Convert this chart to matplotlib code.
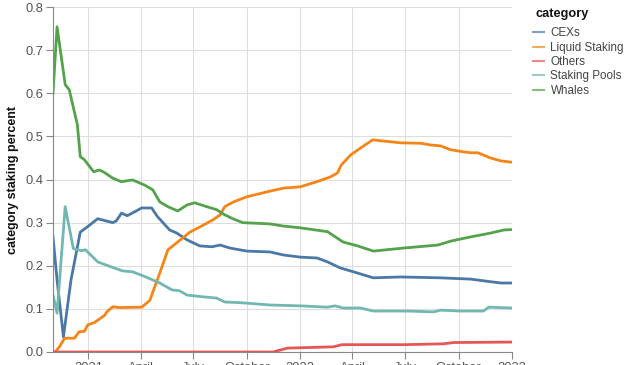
import numpy as np
import pandas as pd
import matplotlib
matplotlib.use("Agg")
import matplotlib.pyplot as plt

plt.rcParams['font.family'] = ['Liberation Sans', 'DejaVu Sans']

# CEXs
cex_dates = ['2020-11-01', '2020-11-08', '2020-11-19', '2020-12-02', '2020-12-18', '2020-12-30',
             '2021-01-17', '2021-02-12', '2021-02-18', '2021-02-27', '2021-03-09', '2021-04-03',
             '2021-04-20', '2021-04-30', '2021-05-21', '2021-06-02', '2021-06-20', '2021-07-12',
             '2021-08-02', '2021-08-16', '2021-09-02', '2021-10-01', '2021-11-10', '2021-12-03',
             '2022-01-01', '2022-01-30', '2022-02-17', '2022-03-11', '2022-04-10', '2022-05-07',
             '2022-06-23', '2022-08-31', '2022-10-22', '2022-11-25', '2022-12-13', '2023-01-01']
cex_vals = [0.267, 0.167, 0.035, 0.167, 0.278, 0.29,
            0.309, 0.30, 0.304, 0.322, 0.316, 0.334,
            0.334, 0.314, 0.283, 0.276, 0.26, 0.246,
            0.244, 0.248, 0.241, 0.234, 0.232, 0.225,
            0.22, 0.218, 0.209, 0.195, 0.183, 0.172,
            0.174, 0.172, 0.169, 0.163, 0.16, 0.16]

# Liquid Staking
liq_dates = ['2020-11-01', '2020-11-05', '2020-11-12', '2020-11-21', '2020-12-08', '2020-12-16',
             '2020-12-25', '2020-12-31', '2021-01-11', '2021-01-29', '2021-02-01', '2021-02-12',
             '2021-02-24', '2021-04-03', '2021-04-17', '2021-04-25', '2021-05-04', '2021-05-18',
             '2021-06-02', '2021-06-25', '2021-07-15', '2021-08-03', '2021-08-16', '2021-08-24',
             '2021-09-08', '2021-10-01', '2021-11-10', '2021-12-03', '2022-01-01', '2022-01-30',
             '2022-02-22', '2022-03-06', '2022-03-13', '2022-03-29', '2022-04-15', '2022-05-06',
             '2022-05-19', '2022-06-23', '2022-07-28', '2022-08-14', '2022-08-31', '2022-09-17',
             '2022-10-10', '2022-10-22', '2022-11-03', '2022-11-25', '2022-12-13', '2023-01-01']
liq_vals = [0.0, 0.0, 0.012, 0.032, 0.032, 0.047,
            0.048, 0.063, 0.068, 0.085, 0.092, 0.105,
            0.103, 0.104, 0.12, 0.15, 0.183, 0.237,
            0.253, 0.278, 0.292, 0.306, 0.318, 0.337,
            0.348, 0.36, 0.373, 0.38, 0.383, 0.395,
            0.406, 0.415, 0.434, 0.457, 0.473, 0.492,
            0.49, 0.485, 0.484, 0.48, 0.478, 0.469,
            0.464, 0.462, 0.462, 0.45, 0.443, 0.44]

# Others
oth_dates = ['2020-11-01', '2021-11-15', '2021-12-10', '2022-02-27', '2022-03-14', '2022-07-01',
             '2022-09-05', '2022-09-23', '2023-01-01']
oth_vals = [0.0, 0.0, 0.009, 0.012, 0.017, 0.017,
            0.019, 0.022, 0.023]

# Staking Pools
pool_dates = ['2020-11-01', '2020-11-08', '2020-11-22', '2020-12-06', '2020-12-20', '2020-12-27',
              '2021-01-17', '2021-02-10', '2021-03-01', '2021-03-18', '2021-04-10', '2021-05-04',
              '2021-05-25', '2021-06-07', '2021-06-20', '2021-07-17', '2021-08-10', '2021-08-24',
              '2021-09-24', '2021-11-10', '2022-01-01', '2022-02-17', '2022-03-02', '2022-03-16',
              '2022-04-15', '2022-05-07', '2022-07-05', '2022-08-19', '2022-08-31', '2022-10-05',
              '2022-11-13', '2022-11-22', '2023-01-01']
pool_vals = [0.132, 0.09, 0.337, 0.24, 0.235, 0.237,
             0.209, 0.197, 0.188, 0.186, 0.174, 0.16,
             0.144, 0.142, 0.132, 0.128, 0.125, 0.116,
             0.114, 0.109, 0.107, 0.104, 0.107, 0.102,
             0.102, 0.095, 0.095, 0.093, 0.097, 0.095,
             0.095, 0.104, 0.102]

# Whales
wh_dates = ['2020-11-01', '2020-11-08', '2020-11-22', '2020-11-29', '2020-12-13', '2020-12-18',
            '2020-12-25', '2021-01-10', '2021-01-20', '2021-01-29', '2021-02-12', '2021-02-27',
            '2021-03-18', '2021-04-08', '2021-04-22', '2021-05-04', '2021-05-18', '2021-06-04',
            '2021-06-20', '2021-07-03', '2021-07-24', '2021-08-10', '2021-08-24', '2021-09-07',
            '2021-09-24', '2021-11-10', '2021-12-03', '2022-01-01', '2022-02-17', '2022-03-16',
            '2022-04-10', '2022-05-07', '2022-06-28', '2022-08-26', '2022-09-17', '2022-10-22',
            '2022-11-26', '2022-12-18', '2023-01-01']
wh_vals = [0.60, 0.754, 0.62, 0.608, 0.527, 0.453,
           0.446, 0.418, 0.422, 0.416, 0.403, 0.395,
           0.399, 0.387, 0.376, 0.348, 0.337, 0.327,
           0.341, 0.346, 0.337, 0.33, 0.318, 0.309,
           0.30, 0.297, 0.292, 0.288, 0.279, 0.255,
           0.246, 0.234, 0.241, 0.248, 0.257, 0.267,
           0.276, 0.283, 0.284]

tick_dates = ['2021-01-01', '2021-04-01', '2021-07-01', '2021-10-01', '2022-01-01',
              '2022-04-01', '2022-07-01', '2022-10-01', '2023-01-01']
tick_labels = ['2021', 'April', 'July', 'October', '2022', 'April', 'July', 'October', '2023']

series = [('CEXs', cex_dates, cex_vals, '#4c78a8'),
          ('Liquid Staking', liq_dates, liq_vals, '#f58518'),
          ('Others', oth_dates, oth_vals, '#e45756'),
          ('Staking Pools', pool_dates, pool_vals, '#72b7b2'),
          ('Whales', wh_dates, wh_vals, '#54a24b')]

fig = plt.figure(figsize=(6.4, 3.65), dpi=100)
ax = fig.add_axes([53/640, 13/365, 459/640, 345/365])

for name, d, v, c in series:
    ax.plot(pd.to_datetime(d), v, color=c, lw=2, label=name, solid_joinstyle='round')

ax.set_xlim(pd.Timestamp('2020-11-01'), pd.Timestamp('2023-01-01'))
ax.set_ylim(0, 0.8)
ax.set_yticks(np.arange(0, 0.81, 0.1))
ax.yaxis.set_major_formatter(plt.FuncFormatter(lambda v, p: f'{v:.1f}'))
ax.set_xticks(pd.to_datetime(tick_dates))
ax.set_xticklabels(tick_labels)

ax.grid(True, color='#dddddd', lw=0.8)
ax.set_axisbelow(True)
for s in ['top', 'right']:
    ax.spines[s].set_visible(False)
for s in ['left', 'bottom']:
    ax.spines[s].set_color('#888888')
ax.tick_params(colors='#888888', labelcolor='#555555', labelsize=9.3, length=5, width=0.8, pad=2)

ax.set_ylabel('category staking percent', fontsize=9, fontweight='bold', color='#111111')
ax.yaxis.set_label_coords(-0.074, 0.5)

# legend: title as separate text, entries below
fig.text(535/640, 1 - 14/365, 'category', fontsize=9.2, fontweight='bold',
         color='#111111', ha='left', va='center')
leg = fig.legend(loc='upper left', bbox_to_anchor=(533/640, 1 - 27.5/365), frameon=False,
                 fontsize=8.4, handlelength=0.9, handletextpad=0.6, labelspacing=0.2,
                 borderpad=0, borderaxespad=0)
for h in leg.get_lines():
    h.set_linewidth(1.5)
    h.set_alpha(0.7)
for t in leg.get_texts():
    t.set_color('#444444')

fig.savefig('out.png', dpi=100)
